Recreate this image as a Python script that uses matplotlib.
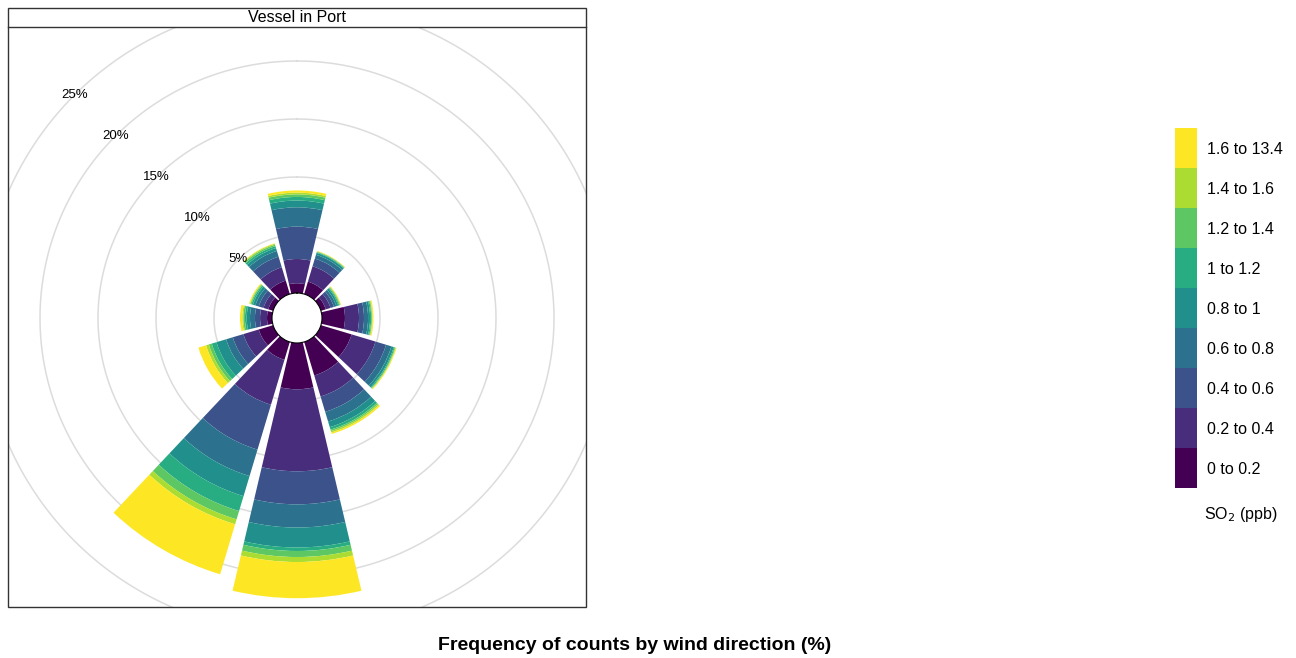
import numpy as np
import matplotlib
matplotlib.use("Agg")
import matplotlib.pyplot as plt
from matplotlib.patches import Rectangle
from matplotlib.colors import ListedColormap, BoundaryNorm
from matplotlib.cm import ScalarMappable

plt.rcParams['font.family'] = ['Liberation Sans', 'DejaVu Sans']

# wind direction sectors (degrees, clockwise from north)
directions = [0, 30, 60, 90, 120, 150, 180, 210, 240, 270, 300, 330]

# frequency (%) of each SO2 band per direction
so2_0_02 = [0.84, 1.12, 0.43, 1.98, 2.76, 3.02, 3.99, 1.61, 1.29, 0.43, 0.43, 1.21]
so2_02_04 = [2.09, 1.38, 0.43, 1.21, 2.15, 1.89, 7.07, 4.04, 1.38, 0.60, 0.43, 1.20]
so2_04_06 = [2.79, 0.69, 0.30, 0.43, 0.95, 1.38, 2.85, 4.04, 0.95, 0.44, 0.43, 0.95]
so2_06_08 = [1.67, 0.34, 0.22, 0.35, 0.48, 0.87, 2.00, 2.38, 0.60, 0.43, 0.30, 0.52]
so2_08_1 = [0.58, 0.18, 0.17, 0.17, 0.21, 0.51, 1.72, 1.81, 0.87, 0.28, 0.22, 0.26]
so2_1_12 = [0.31, 0.06, 0.09, 0.10, 0.09, 0.22, 0.30, 1.34, 0.43, 0.15, 0.13, 0.17]
so2_12_14 = [0.22, 0.05, 0.07, 0.07, 0.06, 0.13, 0.52, 0.75, 0.26, 0.14, 0.09, 0.13]
so2_14_16 = [0.15, 0.03, 0.06, 0.05, 0.05, 0.13, 0.43, 0.44, 0.25, 0.09, 0.06, 0.09]
so2_16_134 = [0.19, 0.03, 0.04, 0.08, 0.06, 0.13, 3.12, 4.50, 0.69, 0.20, 0.07, 0.04]

band_labels = ["0 to 0.2", "0.2 to 0.4", "0.4 to 0.6", "0.6 to 0.8", "0.8 to 1",
               "1 to 1.2", "1.2 to 1.4", "1.4 to 1.6", "1.6 to 13.4"]
grid_levels = [5, 10, 15, 20, 25]

bands = [so2_0_02, so2_02_04, so2_04_06, so2_06_08, so2_08_1,
         so2_1_12, so2_12_14, so2_14_16, so2_16_134]
colors = ["#440154", "#472D7B", "#3B528B", "#2C728E", "#21908C",
          "#27AD81", "#5DC863", "#AADC32", "#FDE725"]

W, H = 1296, 658
fig = plt.figure(figsize=(W / 100, H / 100), dpi=100)

# polar axes centred on the panel, larger than the panel so the rings get cut by its border
cx, cy = 297, 318
R_px = 420
px_per_pct = 11.6
hole = 25 / px_per_pct
rmax = R_px / px_per_pct - hole
ax = fig.add_axes([(cx - R_px) / W, (H - cy - R_px) / H, 2 * R_px / W, 2 * R_px / H],
                  projection='polar')
ax.set_theta_zero_location('N')
ax.set_theta_direction(-1)
ax.set_ylim(0, rmax)
ax.set_rorigin(-hole)
ax.grid(False)
ax.set_xticks([])
ax.set_yticks([])
ax.spines['polar'].set_visible(False)
ax.patch.set_visible(False)

# panel (clip) rectangle in figure coords
px0, py0, px1, py1 = 8, 27, 586, 607
clip = Rectangle((px0 / W, (H - py1) / H), (px1 - px0) / W, (py1 - py0) / H,
                 transform=fig.transFigure, facecolor='none', edgecolor='none')

th = np.linspace(0, 2 * np.pi, 721)
for lv in grid_levels:
    ln, = ax.plot(th, np.full_like(th, lv), color='#dcdcdc', lw=1.1, zorder=1)
    ln.set_clip_path(clip)

theta = np.deg2rad(directions)
bottom = np.zeros(len(directions))
for vals, col in zip(bands, colors):
    bars = ax.bar(theta, vals, bottom=bottom, width=np.deg2rad(26.6),
                  color=col, linewidth=0, zorder=2)
    for b in bars:
        b.set_clip_path(clip)
    bottom = bottom + np.array(vals)

for lv in grid_levels:
    t = ax.text(np.deg2rad(315), lv, f"{lv}%", ha='center', va='center',
                fontsize=9.5, color='black', zorder=3)
    t.set_clip_path(clip)

# panel border and strip
fig.add_artist(Rectangle((px0 / W, (H - py1) / H), (px1 - px0) / W, (py1 - 8) / H,
                         transform=fig.transFigure, fill=False, edgecolor='#333333', lw=1))
fig.add_artist(plt.Line2D([px0 / W, px1 / W], [(H - py0) / H] * 2,
                          transform=fig.transFigure, color='#333333', lw=1))
fig.text(cx / W, (H - 17.5) / H, "Vessel in Port", ha='center', va='center', fontsize=11.5)

# key
cax = fig.add_axes([1175 / W, (H - 488) / H, 22 / W, 360 / H])
cmap = ListedColormap(colors)
norm = BoundaryNorm(np.arange(len(colors) + 1), cmap.N)
cb = fig.colorbar(ScalarMappable(norm=norm, cmap=cmap), cax=cax)
cb.outline.set_visible(False)
cax.minorticks_off()
cb.set_ticks(np.arange(len(colors)) + 0.5)
cb.set_ticklabels(band_labels)
cax.minorticks_off()
cax.tick_params(which='both', length=0, labelsize=11.5, pad=7)
fig.text(1241 / W, (H - 514) / H, "SO$_2$ (ppb)", ha='center', va='center', fontsize=11.5)

fig.text(635 / W, (H - 645) / H, "Frequency of counts by wind direction (%)",
         ha='center', va='center', fontsize=14, fontweight='bold')

fig.savefig("out.png", dpi=100)
